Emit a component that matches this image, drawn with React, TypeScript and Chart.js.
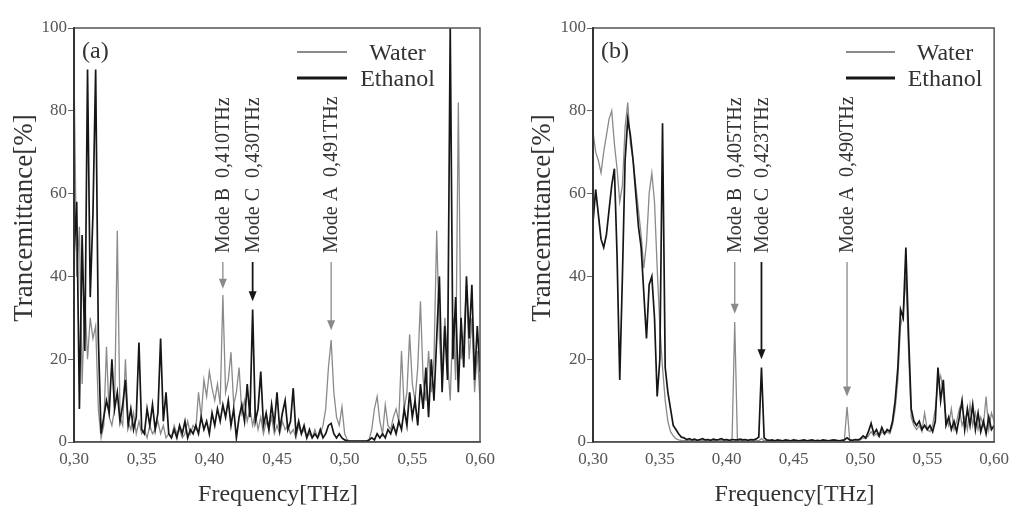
import React, { useEffect, useRef } from 'react';
import { Chart, registerables } from 'chart.js';
Chart.register(...registerables);

const frequencies = [
  0.300, 0.302, 0.304, 0.306, 0.308, 0.310, 0.312, 0.314, 0.316, 0.318,
  0.320, 0.322, 0.324, 0.326, 0.328, 0.330, 0.332, 0.334, 0.336, 0.338,
  0.340, 0.342, 0.344, 0.346, 0.348, 0.350, 0.352, 0.354, 0.356, 0.358,
  0.360, 0.362, 0.364, 0.366, 0.368, 0.370, 0.372, 0.374, 0.376, 0.378,
  0.380, 0.382, 0.384, 0.386, 0.388, 0.390, 0.392, 0.394, 0.396, 0.398,
  0.400, 0.402, 0.404, 0.406, 0.408, 0.410, 0.412, 0.414, 0.416, 0.418,
  0.420, 0.422, 0.424, 0.426, 0.428, 0.430, 0.432, 0.434, 0.436, 0.438,
  0.440, 0.442, 0.444, 0.446, 0.448, 0.450, 0.452, 0.454, 0.456, 0.458,
  0.460, 0.462, 0.464, 0.466, 0.468, 0.470, 0.472, 0.474, 0.476, 0.478,
  0.480, 0.482, 0.484, 0.486, 0.488, 0.490, 0.492, 0.494, 0.496, 0.498,
  0.500, 0.502, 0.504, 0.506, 0.508, 0.510, 0.512, 0.514, 0.516, 0.518,
  0.520, 0.522, 0.524, 0.526, 0.528, 0.530, 0.532, 0.534, 0.536, 0.538,
  0.540, 0.542, 0.544, 0.546, 0.548, 0.550, 0.552, 0.554, 0.556, 0.558,
  0.560, 0.562, 0.564, 0.566, 0.568, 0.570, 0.572, 0.574, 0.576, 0.578,
  0.580, 0.582, 0.584, 0.586, 0.588, 0.590, 0.592, 0.594, 0.596, 0.598,
  0.600,
];

// Panel (a)
const waterA = [
  90, 40, 52, 14, 35, 20, 30, 25, 28, 8,
  1, 4, 23, 6, 4, 8, 51, 6, 4, 20,
  5, 3, 7, 2, 5, 2, 3, 1, 4, 2,
  3, 5, 2, 4, 1, 2, 1, 4, 2, 3,
  1, 2, 5, 2, 4, 3, 12, 6, 15, 11,
  17, 13, 10, 14, 9, 35.5, 12, 15, 21.7, 9,
  12, 18, 7, 10, 5, 8, 4, 7, 3, 6,
  2, 5, 3, 6, 2, 4, 2, 5, 3, 4,
  2, 3, 1, 4, 2, 3, 1, 2, 1, 3,
  1, 2, 4, 8, 18, 24.6, 12, 6, 4, 8.5,
  2, 0.5, 0.2, 0.2, 0.2, 0.2, 0.2, 0.2, 0.2, 0.5,
  3, 8, 11, 5, 2, 9, 4, 3, 6, 8,
  5, 22, 8, 12, 26, 14, 10, 18, 34, 15,
  10, 22, 12, 20, 51, 25, 15, 30, 20, 10,
  30, 15, 82, 20, 25, 38, 20, 30, 12, 22,
  10,
];
const ethanolA = [
  45, 58, 8, 50, 22, 90, 35, 55, 90, 25,
  2, 6, 10, 7, 20, 8, 12, 5, 9, 15,
  4, 8, 3, 6, 24, 3, 2, 8, 4, 9,
  3, 7, 25, 5, 12, 2, 1, 3, 1, 4,
  2, 5, 1, 3, 2, 4, 2, 6, 3, 5,
  2, 7, 4, 8, 5, 9, 6, 10, 4, 8,
  1, 6, 9, 5, 14, 6, 32, 5, 8, 17,
  4, 7, 3, 9, 4, 12, 3, 7, 10, 3,
  5, 13, 2, 5, 2, 4, 1, 3, 1, 2,
  1, 3, 1, 2, 4, 4.5, 2, 1, 2, 1,
  0.5, 0.3, 0.2, 0.2, 0.2, 0.2, 0.2, 0.2, 0.2, 0.5,
  1, 0.5, 2, 1, 2, 1, 3, 2, 4, 2,
  5, 3, 8, 4, 12, 6, 10, 4, 14, 8,
  18, 6, 20, 10, 25, 40, 12, 28, 15, 100,
  20, 35, 12, 30, 18, 40, 25, 38, 15, 28,
  17,
];

// Panel (b)
const waterB = [
  75, 70, 68, 65, 70, 74, 78, 80, 72, 66,
  58, 62, 76, 82, 72, 68, 62, 56, 50, 42,
  48, 60, 65, 58, 42, 28, 18, 10, 5, 2.5,
  1.5, 0.8, 0.5, 0.4, 0.3, 0.3, 0.3, 0.3, 0.3, 0.3,
  0.3, 0.3, 0.3, 0.3, 0.3, 0.3, 0.3, 0.3, 0.3, 0.3,
  0.3, 0.3, 0.5, 29, 0.5, 0.3, 0.3, 0.3, 0.3, 0.3,
  0.3, 0.3, 0.3, 0.8, 0.3, 0.3, 0.3, 0.3, 0.3, 0.3,
  0.3, 0.3, 0.3, 0.3, 0.3, 0.3, 0.3, 0.3, 0.3, 0.3,
  0.3, 0.3, 0.3, 0.3, 0.3, 0.3, 0.3, 0.3, 0.3, 0.3,
  0.3, 0.3, 0.3, 0.3, 0.5, 8.5, 0.5, 0.3, 0.4, 0.3,
  0.5, 1.0, 0.8, 1.5, 2.5, 1.5, 2.0, 1.2, 2.5, 1.8,
  2.5, 2.0, 4, 8, 15, 28, 31, 40, 22, 6,
  4, 3, 4, 2.5, 7, 3, 2.5, 4, 8, 14,
  16, 12, 6, 4, 8, 3, 5, 8, 4, 6,
  3, 9, 4, 7, 3, 6, 4, 11, 3, 7,
  5,
];
const ethanolB = [
  53, 61, 55, 49, 47, 50, 56, 62, 66, 45,
  15, 40, 68, 78, 74, 68, 60, 52, 47, 36,
  25, 38, 40, 30, 11, 20, 77, 18, 12, 8,
  4, 3, 2, 1.2, 1, 0.6, 0.8, 0.5, 0.7, 0.4,
  0.6, 0.8, 0.5, 0.6, 0.4, 0.7, 0.5, 0.6, 0.8, 0.5,
  0.6, 0.4, 0.6, 0.5, 0.5, 0.7, 0.5, 0.6, 0.4, 0.6,
  0.5, 0.7, 1.2, 18, 1.0, 0.5, 0.4, 0.5, 0.3, 0.5,
  0.4, 0.3, 0.5, 0.4, 0.3, 0.5, 0.4, 0.3, 0.4, 0.5,
  0.3, 0.4, 0.5, 0.3, 0.4, 0.3, 0.5, 0.4, 0.3, 0.4,
  0.5, 0.4, 0.3, 0.4, 0.5, 1.0, 0.5, 0.4, 0.6, 0.5,
  0.8, 1.5, 1.0, 2.5, 4.5, 2.0, 3.0, 1.5, 3.5, 2.0,
  3.0, 2.5, 5, 10, 18, 32, 30, 47, 26, 8,
  5, 4, 5, 3, 4, 3, 4, 2.5, 5, 18,
  10, 15, 4, 6, 3, 5, 2.5, 6, 10, 3,
  8, 4, 9, 3, 7, 2.5, 5, 2, 6, 3,
  4,
];

const xTicks = [0.30, 0.35, 0.40, 0.45, 0.50, 0.55, 0.60];
const yTicks = [0, 20, 40, 60, 80, 100];
const seriesNames = ['Water', 'Ethanol'];

const modeLabelsA = ['Mode B  0,410THz', 'Mode C  0,430THz', 'Mode A  0,491THz'];
const arrowFreqsA = [0.410, 0.432, 0.490];
const arrowTipsA = [37, 34, 27];
const modeLabelsB = ['Mode B  0,405THz', 'Mode C  0,423THz', 'Mode A  0,490THz'];
const arrowFreqsB = [0.406, 0.426, 0.490];
const arrowTipsB = [31, 20, 11];

const FONT = '"Liberation Serif", "Times New Roman", serif';
const WATER_COLOR = '#8a8a8a';
const ETHANOL_COLOR = '#161616';
const ARROW_COLORS = [WATER_COLOR, ETHANOL_COLOR, WATER_COLOR];
const TEXT_COLOR = '#333';

function overlay(p: any) {
  return {
    id: 'overlay',
    afterDraw(chart: any) {
      const { ctx, chartArea: a, scales } = chart;
      const xs = scales.x;
      const ys = scales.y;
      ctx.save();
      // frame
      ctx.strokeStyle = '#555';
      ctx.lineWidth = 1.5;
      ctx.strokeRect(a.left, a.top, a.right - a.left, a.bottom - a.top);
      ctx.strokeStyle = '#333';
      ctx.lineWidth = 2;
      ctx.beginPath();
      ctx.moveTo(a.left, a.top);
      ctx.lineTo(a.left, a.bottom);
      ctx.stroke();

      // panel tag
      ctx.fillStyle = TEXT_COLOR;
      ctx.font = `24px ${FONT}`;
      ctx.textAlign = 'left';
      ctx.textBaseline = 'alphabetic';
      ctx.fillText(p.tag, a.left + 8, 58);

      // legend
      const rows = [
        { name: seriesNames[0], color: WATER_COLOR, w: 2, y: 52, base: 60 },
        { name: seriesNames[1], color: ETHANOL_COLOR, w: 3, y: 78, base: 86 },
      ];
      rows.forEach((r) => {
        ctx.strokeStyle = r.color;
        ctx.lineWidth = r.w;
        ctx.beginPath();
        ctx.moveTo(p.legendLine[0], r.y);
        ctx.lineTo(p.legendLine[1], r.y);
        ctx.stroke();
        ctx.fillStyle = TEXT_COLOR;
        ctx.textAlign = 'center';
        ctx.fillText(r.name, p.legendTextX, r.base);
      });

      // annotations
      ctx.font = `20px ${FONT}`;
      p.labels.forEach((lab: string, i: number) => {
        const x = xs.getPixelForValue(p.freqs[i]);
        const tip = ys.getPixelForValue(p.tips[i]);
        const top = 262;
        ctx.save();
        ctx.translate(x + 1, 253);
        ctx.rotate(-Math.PI / 2);
        ctx.fillStyle = TEXT_COLOR;
        ctx.textAlign = 'left';
        ctx.textBaseline = 'middle';
        ctx.fillText(lab, 0, 0);
        ctx.restore();
        const c = ARROW_COLORS[i];
        ctx.strokeStyle = c;
        ctx.fillStyle = c;
        ctx.lineWidth = i === 1 ? 1.8 : 1.3;
        ctx.beginPath();
        ctx.moveTo(x, top);
        ctx.lineTo(x, tip - 6);
        ctx.stroke();
        ctx.beginPath();
        ctx.moveTo(x, tip);
        ctx.lineTo(x - 4, tip - 10);
        ctx.lineTo(x + 4, tip - 10);
        ctx.closePath();
        ctx.fill();
      });

      // axis titles
      ctx.fillStyle = TEXT_COLOR;
      ctx.font = `24px ${FONT}`;
      ctx.textAlign = 'center';
      ctx.textBaseline = 'alphabetic';
      ctx.fillText('Frequency[THz]', (a.left + a.right) / 2 + 1, 501);
      ctx.save();
      ctx.font = `27px ${FONT}`;
      ctx.translate(p.yTitleX, 218);
      ctx.rotate(-Math.PI / 2);
      ctx.fillText('Trancemittance[%]', 0, 0);
      ctx.restore();
      ctx.restore();
    },
  };
}

function buildConfig(p: any): any {
  return {
    type: 'line',
    data: {
      datasets: [
        {
          label: seriesNames[0],
          data: frequencies.map((f, i) => ({ x: f, y: p.water[i] })),
          borderColor: WATER_COLOR,
          borderWidth: 1.3,
          pointRadius: 0,
          tension: 0,
          order: 1,
        },
        {
          label: seriesNames[1],
          data: frequencies.map((f, i) => ({ x: f, y: p.ethanol[i] })),
          borderColor: ETHANOL_COLOR,
          borderWidth: 1.7,
          pointRadius: 0,
          tension: 0,
          order: 0,
        },
      ],
    },
    options: {
      responsive: false,
      animation: false,
      devicePixelRatio: 1,
      layout: { padding: { left: 0, right: p.padRight, top: 28, bottom: 0 } },
      plugins: { legend: { display: false }, tooltip: { enabled: false } },
      scales: {
        x: {
          type: 'linear',
          min: 0.3,
          max: 0.6,
          afterFit: (s: any) => { s.height = 69; },
          afterBuildTicks: (s: any) => { s.ticks = xTicks.map((v) => ({ value: v })); },
          ticks: {
            autoSkip: false,
            maxRotation: 0,
            padding: 7,
            color: '#555',
            font: { family: FONT, size: 17 },
            callback: (v: number) => Number(v).toFixed(2).replace('.', ','),
          },
          grid: { drawOnChartArea: false, drawTicks: false },
          border: { color: '#444', width: 1.5 },
        },
        y: {
          min: 0,
          max: 100,
          afterFit: (s: any) => { s.width = p.yAxisWidth; },
          afterBuildTicks: (s: any) => { s.ticks = yTicks.map((v) => ({ value: v })); },
          ticks: {
            autoSkip: false,
            padding: 1,
            color: '#555',
            font: { family: FONT, size: 17 },
          },
          grid: { drawOnChartArea: false, drawTicks: true, tickLength: 6, tickColor: '#666' },
          border: { color: '#333', width: 2 },
        },
      },
    },
    plugins: [overlay(p)],
  };
}

const panelA = {
  water: waterA, ethanol: ethanolA, tag: '(a)', yAxisWidth: 74, padRight: 28,
  legendLine: [297, 347], legendTextX: 397.5, yTitleX: 32,
  labels: modeLabelsA, freqs: arrowFreqsA, tips: arrowTipsA,
};
const panelB = {
  water: waterB, ethanol: ethanolB, tag: '(b)', yAxisWidth: 85, padRight: 17,
  legendLine: [338, 387], legendTextX: 437, yTitleX: 42,
  labels: modeLabelsB, freqs: arrowFreqsB, tips: arrowTipsB,
};

export default function App() {
  const refA = useRef<HTMLCanvasElement>(null);
  const refB = useRef<HTMLCanvasElement>(null);
  useEffect(() => {
    const cA = new Chart(refA.current as HTMLCanvasElement, buildConfig(panelA));
    const cB = new Chart(refB.current as HTMLCanvasElement, buildConfig(panelB));
    return () => { cA.destroy(); cB.destroy(); };
  }, []);
  return (
    <div style={{ position: 'absolute', left: 0, top: 0, width: 1016, height: 511, background: '#fff' }}>
      <canvas ref={refA} width={508} height={511} style={{ position: 'absolute', left: 0, top: 0 }} />
      <canvas ref={refB} width={508} height={511} style={{ position: 'absolute', left: 508, top: 0 }} />
    </div>
  );
}
